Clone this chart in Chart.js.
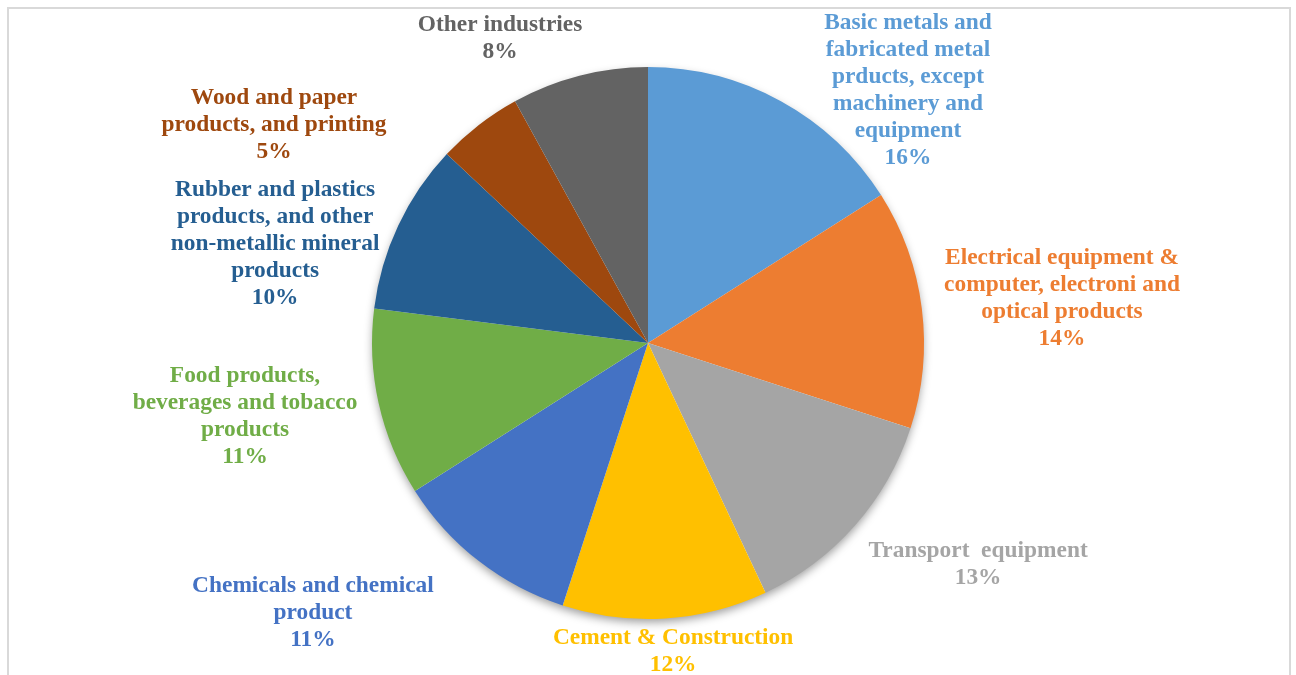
<!DOCTYPE html>
<html>
<head>
<meta charset="utf-8">
<script src="https://cdn.jsdelivr.net/npm/chart.js@4.4.1/dist/chart.umd.min.js"></script>
<style>
    html, body { margin: 0; padding: 0; background: #FFFFFF; overflow: hidden; }
    #Frame { position: absolute; left: 7px; top: 7px; width: 1280px; height: 700px; border: 2px solid #D9D9D9; }
    #IndustryChart { position: absolute; left: 0; top: 0; }
</style>
</head>
<body>
<div id="Frame"></div>
<canvas id="IndustryChart" width="1296" height="675"></canvas>
<script>
const IndustryChartId = 'IndustryChart';

// categories, one entry per line of the label
const Categories = [
    ['Basic metals and', 'fabricated metal', 'prducts, except', 'machinery and', 'equipment'],
    ['Electrical equipment &', 'computer, electroni and', 'optical products'],
    ['Transport  equipment'],
    ['Cement & Construction'],
    ['Chemicals and chemical', 'product'],
    ['Food products,', 'beverages and tobacco', 'products'],
    ['Rubber and plastics', 'products, and other', 'non-metallic mineral', 'products'],
    ['Wood and paper', 'products, and printing'],
    ['Other industries']
];
const Shares = [16, 14, 13, 12, 11, 11, 10, 5, 8];
const SliceColors = ['#5B9BD5', '#ED7D31', '#A5A5A5', '#FFC000', '#4472C4', '#70AD47', '#255E91', '#9E480E', '#636363'];

// label block centres, relative to pie centre in units of radius
const LabelOffsets = [
    [0.942, -0.915],
    [1.500, -0.161],
    [1.196, 0.801],
    [0.091, 1.118],
    [-1.214, 0.978],
    [-1.460, 0.266],
    [-1.351, -0.359],
    [-1.355, -0.790],
    [-0.536, -1.103]
];

const LabelFont = 'bold 23.4px "Liberation Serif", "Times New Roman", serif';
const LineHeight = 27;

const shadowPlugin = {
    id: 'pieShadow',
    beforeDatasetsDraw(chart) {
        const arc = chart.getDatasetMeta(0).data[0];
        if (!arc) return;
        const { ctx } = chart;
        ctx.save();
        ctx.shadowColor = 'rgba(0, 0, 0, 0.4)';
        ctx.shadowBlur = 10;
        ctx.shadowOffsetY = 4;
        ctx.fillStyle = '#FFFFFF';
        ctx.beginPath();
        ctx.arc(arc.x, arc.y, arc.outerRadius - 1, 0, Math.PI * 2);
        ctx.fill();
        ctx.restore();
    }
};

const outsideLabels = {
    id: 'outsideLabels',
    afterDatasetsDraw(chart) {
        const meta = chart.getDatasetMeta(0);
        const first = meta.data[0];
        if (!first) return;
        const { ctx } = chart;
        const cx = first.x, cy = first.y, r = first.outerRadius;
        const data = chart.data.datasets[0].data;
        const total = data.reduce((a, b) => a + b, 0);
        ctx.save();
        ctx.font = LabelFont;
        ctx.textAlign = 'center';
        ctx.textBaseline = 'middle';
        data.forEach((v, i) => {
            const lines = Categories[i].concat([Math.round(v / total * 100) + '%']);
            const bx = cx + LabelOffsets[i][0] * r;
            const by = cy + LabelOffsets[i][1] * r;
            const top = by - (lines.length - 1) * LineHeight / 2;
            ctx.fillStyle = SliceColors[i];
            lines.forEach((line, j) => ctx.fillText(line, bx, top + j * LineHeight));
        });
        ctx.restore();
    }
};

new Chart(document.getElementById(IndustryChartId),
{
    type: 'pie',
    data:
    {
        labels: Categories.map(c => c.join(' ')),
        datasets: [{
            data: Shares,
            backgroundColor: SliceColors,
            borderWidth: 0
        }]
    },
    options:
    {
        responsive: false,
        animation: false,
        layout: { padding: { top: 67, bottom: 56, left: 372, right: 372 } },
        plugins:
        {
            legend: { display: false },
            tooltip: { enabled: false }
        }
    },
    plugins: [shadowPlugin, outsideLabels]
});
</script>
</body>
</html>
